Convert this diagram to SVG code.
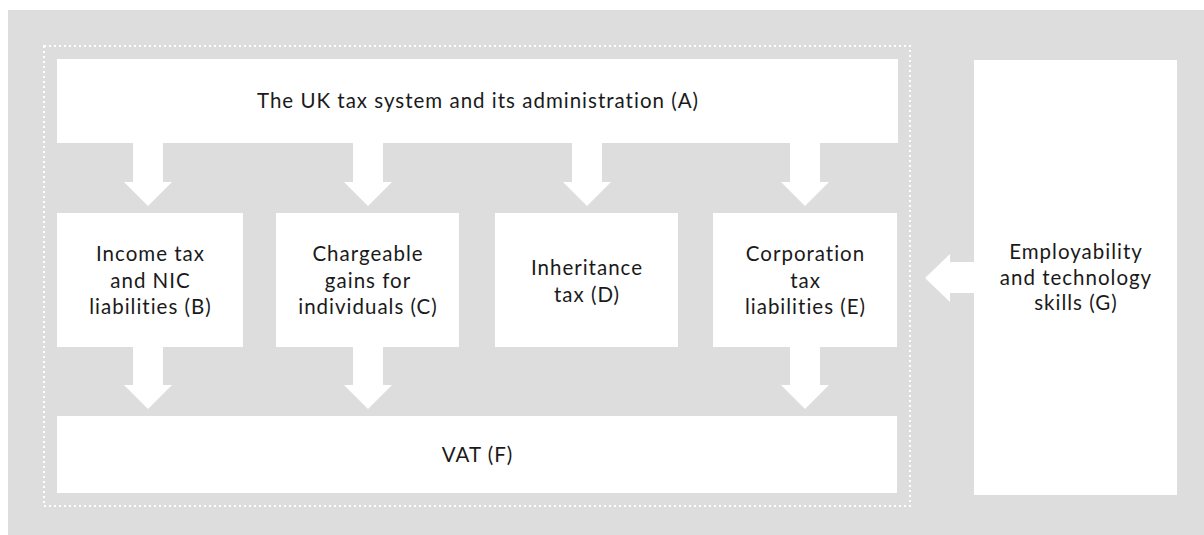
<svg xmlns="http://www.w3.org/2000/svg" width="1204" height="535" viewBox="0 0 1204 535">
<style>
.bg{fill:#dcdddc}
.box{fill:#ffffff}
.arrow{fill:#ffffff}
.frame{fill:none;stroke:#ffffff;stroke-width:2;stroke-dasharray:2 3}
text{font-family:Lato,"Noto Sans","Liberation Sans",sans-serif;font-size:20.5px;letter-spacing:1px;fill:#1a1a1a;text-anchor:middle}
</style>
<rect width="1204" height="535" fill="#ffffff"/>
<rect class="bg" x="8" y="10" width="1196" height="525"/>
<rect class="frame" x="44" y="46" width="866" height="460"/>
<g id="connectors">
<polygon class="arrow" points="133,142 163,142 163,182 172,182 148,206 124,182 133,182"/>
<polygon class="arrow" points="353,142 383,142 383,182 392,182 368,206 344,182 353,182"/>
<polygon class="arrow" points="572,142 602,142 602,182 611,182 587,206 563,182 572,182"/>
<polygon class="arrow" points="790,142 820,142 820,182 829,182 805,206 781,182 790,182"/>
<polygon class="arrow" points="133,346 163,346 163,385 172,385 148,409 124,385 133,385"/>
<polygon class="arrow" points="353,346 383,346 383,385 392,385 368,409 344,385 353,385"/>
<polygon class="arrow" points="790,346 820,346 820,385 829,385 805,409 781,385 790,385"/>
<polygon class="arrow" points="975,262 975,293 950,293 950,302 925,278 950,254 950,262"/>
</g>
<g id="nodeA">
<rect class="box" x="57" y="59" width="841" height="84"/>
<text x="478" y="108">The UK tax system and its administration (A)</text>
</g>
<g id="nodeB">
<rect class="box" x="57" y="213" width="186" height="134"/>
<text x="150.5" y="261">Income tax</text>
<text x="150.5" y="287.5">and NIC</text>
<text x="150.5" y="314">liabilities (B)</text>
</g>
<g id="nodeC">
<rect class="box" x="276" y="213" width="183" height="134"/>
<text x="368" y="261">Chargeable</text>
<text x="368" y="287.5">gains for</text>
<text x="368" y="314">individuals (C)</text>
</g>
<g id="nodeD">
<rect class="box" x="495" y="213" width="183" height="134"/>
<text x="587" y="275">Inheritance</text>
<text x="587" y="302">tax (D)</text>
</g>
<g id="nodeE">
<rect class="box" x="713" y="213" width="184" height="134"/>
<text x="805.5" y="261">Corporation</text>
<text x="805.5" y="287.5">tax</text>
<text x="805.5" y="314">liabilities (E)</text>
</g>
<g id="nodeF">
<rect class="box" x="57" y="416" width="840" height="77"/>
<text x="477.5" y="462">VAT (F)</text>
</g>
<g id="nodeG">
<rect class="box" x="974" y="60" width="203" height="435"/>
<text x="1076" y="259">Employability</text>
<text x="1076" y="284.5">and technology</text>
<text x="1076" y="310">skills (G)</text>
</g>
</svg>
